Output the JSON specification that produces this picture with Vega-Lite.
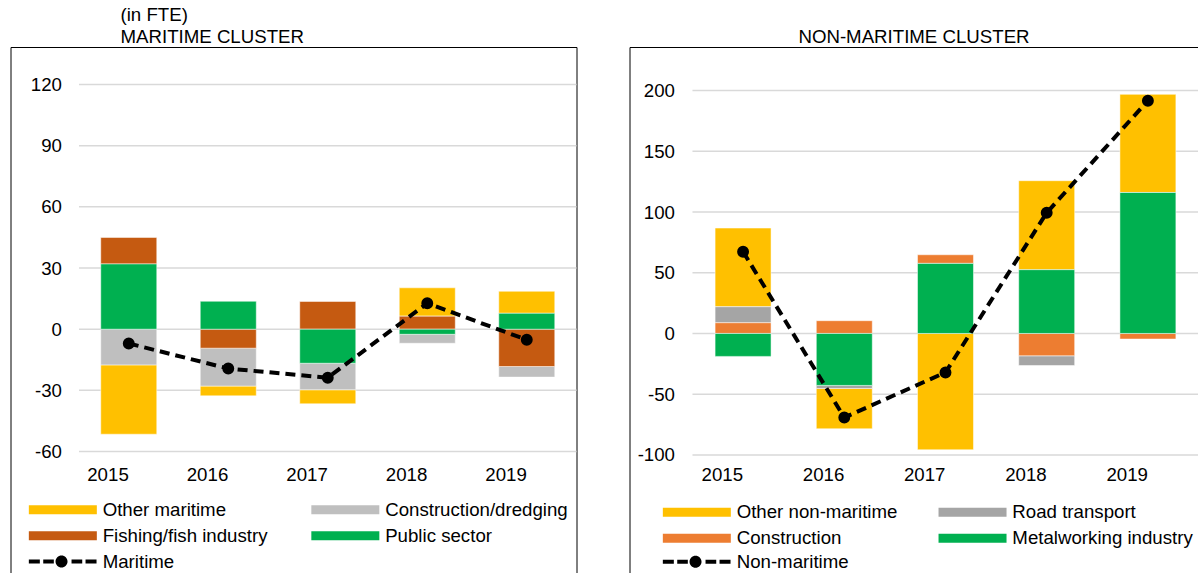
{
  "$schema": "https://vega.github.io/schema/vega-lite/v6.json",
  "padding": {"left": 9.5, "top": 5, "right": 0, "bottom": 0},
  "config": {
    "font": "Liberation Sans",
    "view": {"stroke": "#000000", "strokeWidth": 1},
    "axis": {"labelFont": "Liberation Sans", "labelFontSize": 18.67, "labelColor": "#000000", "domain": false, "ticks": false, "tickSize": 0, "grid": false, "title": null},
    "legend": {"labelFont": "Liberation Sans", "labelFontSize": 18.67, "labelColor": "#000000", "labelLimit": 400, "padding": 0},
    "title": {"font": "Liberation Sans", "fontSize": 18.67, "fontWeight": "normal", "color": "#000000", "lineHeight": 21.7, "baseline": "alphabetic", "offset": 0.8, "frame": "group"}
  },
  "datasets": {
    "mar": [
      {"year": "2015", "series": "Other maritime", "value": -34},
      {"year": "2015", "series": "Construction/dredging", "value": -17.5},
      {"year": "2015", "series": "Fishing/fish industry", "value": 13},
      {"year": "2015", "series": "Public sector", "value": 32},
      {"year": "2016", "series": "Other maritime", "value": -4.8},
      {"year": "2016", "series": "Construction/dredging", "value": -18.6},
      {"year": "2016", "series": "Fishing/fish industry", "value": -9.3},
      {"year": "2016", "series": "Public sector", "value": 13.7},
      {"year": "2017", "series": "Other maritime", "value": -6.9},
      {"year": "2017", "series": "Construction/dredging", "value": -13},
      {"year": "2017", "series": "Fishing/fish industry", "value": 13.6},
      {"year": "2017", "series": "Public sector", "value": -16.7},
      {"year": "2018", "series": "Other maritime", "value": 13.9},
      {"year": "2018", "series": "Construction/dredging", "value": -4.4},
      {"year": "2018", "series": "Fishing/fish industry", "value": 6.4},
      {"year": "2018", "series": "Public sector", "value": -2.5},
      {"year": "2019", "series": "Other maritime", "value": 10.8},
      {"year": "2019", "series": "Construction/dredging", "value": -5.2},
      {"year": "2019", "series": "Fishing/fish industry", "value": -18.3},
      {"year": "2019", "series": "Public sector", "value": 7.8}
    ],
    "marline": [
      {"year": "2015", "series": "Maritime", "value": -7},
      {"year": "2016", "series": "Maritime", "value": -19.3},
      {"year": "2017", "series": "Maritime", "value": -23.8},
      {"year": "2018", "series": "Maritime", "value": 12.7},
      {"year": "2019", "series": "Maritime", "value": -5.2}
    ],
    "margrid": [{"v": -60}, {"v": -30}, {"v": 0}, {"v": 30}, {"v": 60}, {"v": 90}, {"v": 120}],
    "non": [
      {"year": "2015", "series": "Other non-maritime", "value": 64.8},
      {"year": "2015", "series": "Road transport", "value": 13.2},
      {"year": "2015", "series": "Construction", "value": 8.8},
      {"year": "2015", "series": "Metalworking industry", "value": -18.9},
      {"year": "2016", "series": "Other non-maritime", "value": -33.2},
      {"year": "2016", "series": "Road transport", "value": -2.5},
      {"year": "2016", "series": "Construction", "value": 10.5},
      {"year": "2016", "series": "Metalworking industry", "value": -42.8},
      {"year": "2017", "series": "Other non-maritime", "value": -95.8},
      {"year": "2017", "series": "Road transport", "value": 0},
      {"year": "2017", "series": "Construction", "value": 7.1},
      {"year": "2017", "series": "Metalworking industry", "value": 57.7},
      {"year": "2018", "series": "Other non-maritime", "value": 73.3},
      {"year": "2018", "series": "Road transport", "value": -8},
      {"year": "2018", "series": "Construction", "value": -18.4},
      {"year": "2018", "series": "Metalworking industry", "value": 52.5},
      {"year": "2019", "series": "Other non-maritime", "value": 80.8},
      {"year": "2019", "series": "Road transport", "value": 0},
      {"year": "2019", "series": "Construction", "value": -4.6},
      {"year": "2019", "series": "Metalworking industry", "value": 116.1}
    ],
    "nonline": [
      {"year": "2015", "series": "Non-maritime", "value": 67.3},
      {"year": "2016", "series": "Non-maritime", "value": -69.2},
      {"year": "2017", "series": "Non-maritime", "value": -32.1},
      {"year": "2018", "series": "Non-maritime", "value": 99.4},
      {"year": "2019", "series": "Non-maritime", "value": 191.7}
    ],
    "nongrid": [{"v": -100}, {"v": -50}, {"v": 0}, {"v": 50}, {"v": 100}, {"v": 150}, {"v": 200}]
  },
  "hconcat": [
    {
      "width": 566,
      "height": 527,
      "title": {"text": ["(in FTE)", "MARITIME CLUSTER"], "anchor": "start", "dx": 110},
      "layer": [
        {
          "data": {"name": "margrid"},
          "mark": {"type": "rule", "color": "#D9D9D9", "strokeWidth": 1.5},
          "encoding": {
            "y": {"field": "v", "type": "quantitative", "scale": {"domain": [-120.06, 138.4], "nice": false, "zero": false},
                  "axis": {"values": [-60, -30, 0, 30, 60, 90, 120], "labelExpr": "'' + datum.value", "offset": -68.5, "labelPadding": 17.5, "title": null}},
            "x": {"datum": "2015", "type": "ordinal", "bandPosition": -0.388},
            "x2": {"datum": "2019", "bandPosition": 1.388}
          }
        },
        {
          "data": {"name": "mar"},
          "transform": [{"calculate": "indexof(['Public sector','Fishing/fish industry','Construction/dredging','Other maritime'], datum.series)", "as": "rank"}],
          "mark": {"type": "bar", "stroke": "#ffffff", "strokeWidth": 0.5},
          "encoding": {
            "x": {"field": "year", "type": "ordinal", "scale": {"paddingInner": 0.437, "paddingOuter": 0.5627, "align": 0.806},
                  "axis": {"offset": -122.5, "labelPadding": 23, "labelAngle": 0, "title": null}},
            "y": {"field": "value", "type": "quantitative", "stack": "zero"},
            "order": {"field": "rank", "type": "quantitative", "sort": "ascending"},
            "color": {"field": "series", "type": "nominal",
              "scale": {"domain": ["Other maritime", "Construction/dredging", "Fishing/fish industry", "Public sector"],
                        "range": ["#FFC000", "#BFBFBF", "#C55A11", "#00B050"]},
              "legend": {"orient": "none", "direction": "horizontal", "legendX": 14, "legendY": 453, "columns": 2, "columnPadding": 38.5, "rowPadding": 6.5,
                         "symbolSize": 100, "symbolType": "M-1,-0.9H12.6V0.9H-1Z", "symbolStrokeWidth": 0, "labelOffset": 59.5, "title": null}}
          }
        },
        {
          "data": {"name": "marline"},
          "mark": {"type": "line", "color": "#000000", "strokeDash": [10, 6], "strokeWidth": 4},
          "encoding": {
            "x": {"field": "year", "type": "ordinal"},
            "y": {"field": "value", "type": "quantitative"}
          }
        },
        {
          "data": {"name": "marline"},
          "mark": {"type": "point", "filled": true, "color": "#000000", "stroke": "#000000", "strokeWidth": 3.5, "size": 71},
          "encoding": {
            "x": {"field": "year", "type": "ordinal"},
            "y": {"field": "value", "type": "quantitative"},
            "opacity": {"field": "series", "type": "nominal", "scale": {"domain": ["Maritime"], "range": [1]},
              "legend": {"orient": "none", "legendX": 14, "legendY": 505.2, "symbolSize": 100,
                         "symbolType": "M-1,-0.4H1.2V0.4H-1ZM1.88,-0.4H4V0.4H1.88ZM7.54,-0.4H9.68V0.4H7.54ZM10.34,-0.4H12.54V0.4H10.34ZM4.34,0A1.2,1.2 0 1,0 6.74,0A1.2,1.2 0 1,0 4.34,0Z",
                         "symbolStrokeWidth": 0, "symbolFillColor": "#000000", "labelOffset": 59.5, "title": null}}
          }
        }
      ]
    },
    {
      "width": 569,
      "height": 527,
      "title": {"text": ["", "NON-MARITIME CLUSTER"], "anchor": "middle"},
      "layer": [
        {
          "data": {"name": "nongrid"},
          "mark": {"type": "rule", "color": "#D9D9D9", "strokeWidth": 1.5},
          "encoding": {
            "y": {"field": "v", "type": "quantitative", "scale": {"domain": [-198.1, 235.9], "nice": false, "zero": false},
                  "axis": {"values": [-100, -50, 0, 50, 100, 150, 200], "labelExpr": "'' + datum.value", "offset": -63, "labelPadding": 18, "title": null}},
            "x": {"datum": "2015", "type": "ordinal", "bandPosition": -0.404},
            "x2": {"datum": "2019", "bandPosition": 1.404}
          }
        },
        {
          "data": {"name": "non"},
          "transform": [{"calculate": "indexof(['Metalworking industry','Construction','Road transport','Other non-maritime'], datum.series)", "as": "rank"}],
          "mark": {"type": "bar", "stroke": "#ffffff", "strokeWidth": 0.5},
          "encoding": {
            "x": {"field": "year", "type": "ordinal", "scale": {"paddingInner": 0.447, "paddingOuter": 0.5346, "align": 0.791},
                  "axis": {"offset": -119.2, "labelPadding": 19.6, "labelAngle": 0, "title": null}},
            "y": {"field": "value", "type": "quantitative", "stack": "zero"},
            "order": {"field": "rank", "type": "quantitative", "sort": "ascending"},
            "color": {"field": "series", "type": "nominal",
              "scale": {"domain": ["Other non-maritime", "Road transport", "Construction", "Metalworking industry"],
                        "range": ["#FFC000", "#A5A5A5", "#ED7D31", "#00B050"]},
              "legend": {"orient": "none", "direction": "horizontal", "legendX": 29, "legendY": 455.5, "columns": 2, "columnPadding": 36.7, "rowPadding": 6.5,
                         "symbolSize": 100, "symbolType": "M-1,-0.9H12.6V0.9H-1Z", "symbolStrokeWidth": 0, "labelOffset": 59.5, "title": null}}
          }
        },
        {
          "data": {"name": "nonline"},
          "mark": {"type": "line", "color": "#000000", "strokeDash": [10, 6], "strokeWidth": 4},
          "encoding": {
            "x": {"field": "year", "type": "ordinal"},
            "y": {"field": "value", "type": "quantitative"}
          }
        },
        {
          "data": {"name": "nonline"},
          "mark": {"type": "point", "filled": true, "color": "#000000", "stroke": "#000000", "strokeWidth": 3.5, "size": 71},
          "encoding": {
            "x": {"field": "year", "type": "ordinal"},
            "y": {"field": "value", "type": "quantitative"},
            "opacity": {"field": "series", "type": "nominal", "scale": {"domain": ["Non-maritime"], "range": [1]},
              "legend": {"orient": "none", "legendX": 29, "legendY": 505.5, "symbolSize": 100,
                         "symbolType": "M-1,-0.4H1.2V0.4H-1ZM1.88,-0.4H4V0.4H1.88ZM7.54,-0.4H9.68V0.4H7.54ZM10.34,-0.4H12.54V0.4H10.34ZM4.34,0A1.2,1.2 0 1,0 6.74,0A1.2,1.2 0 1,0 4.34,0Z",
                         "symbolStrokeWidth": 0, "symbolFillColor": "#000000", "labelOffset": 59.5, "title": null}}
          }
        }
      ]
    }
  ],
  "spacing": 53,
  "bounds": "flush",
  "resolve": {"scale": {"color": "independent", "opacity": "independent"}}
}
